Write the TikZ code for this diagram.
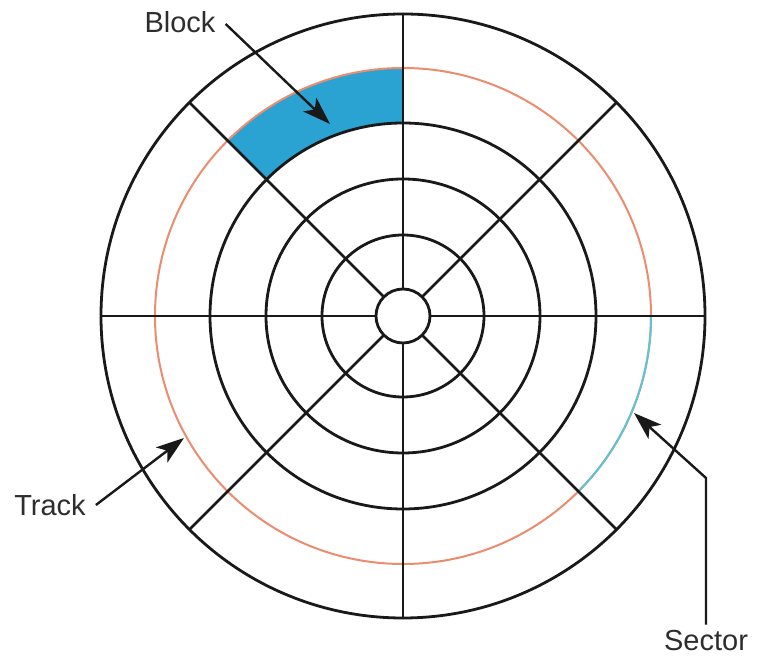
\documentclass[tikz,border=0pt]{standalone}
\usepackage{fontspec}
\setmainfont{Liberation Sans}
\usetikzlibrary{arrows.meta}
\definecolor{trackc}{RGB}{236,140,110}
\definecolor{sectc}{RGB}{95,195,215}
\definecolor{blockc}{RGB}{42,163,211}
\definecolor{linec}{RGB}{25,25,25}
\definecolor{txtc}{RGB}{45,45,45}
\begin{document}
\begin{tikzpicture}[x=1pt,y=1pt,
  disk/.style={draw=linec,line width=2.8pt},
  lbl/.style={text=txtc,font=\fontsize{29}{32}\selectfont,inner sep=2pt},
  arr/.style={draw=linec,line width=2.4pt,-{Stealth[length=28pt,width=19pt,inset=7pt]}}]
\useasboundingbox (0,0) rectangle (758,658);
\coordinate (c) at (403,342);
% block
\fill[blockc] ([shift={(90:193)}]c) arc[start angle=90,end angle=135,radius=193]
  -- ([shift={(135:248)}]c) arc[start angle=135,end angle=90,radius=248] -- cycle;
% track circle
\draw[trackc,line width=2pt] (c) circle[radius=248];
% sector
\draw[sectc,line width=2pt] ([shift={(0:248)}]c) arc[start angle=0,end angle=-45,radius=248];
% circles
\foreach \r in {302,193,137,81,27} \draw[disk] (c) circle[radius=\r];
% spokes
\foreach \a in {0,45,...,315} \draw[disk] ([shift={(\a:27)}]c) -- ([shift={(\a:302)}]c);
% labels
\node[lbl] (blk) at (180,636) {Block};
\node[lbl] (trk) at (50,153) {Track};
\node[lbl] (sec) at (706,17) {Sector};
\coordinate (blktip) at (330,534);
\coordinate (trktip) at (184,220);
\coordinate (secbend) at (706,180);
\coordinate (sectip) at (634,245);
\draw[arr] ([shift={(8,-2)}]blk.east) -- (blktip);
\draw[arr] ([shift={(8,0)}]trk.east) -- (trktip);
\draw[arr] ([yshift=4pt]sec.north) -- (secbend) -- (sectip);
\end{tikzpicture}
\end{document}
